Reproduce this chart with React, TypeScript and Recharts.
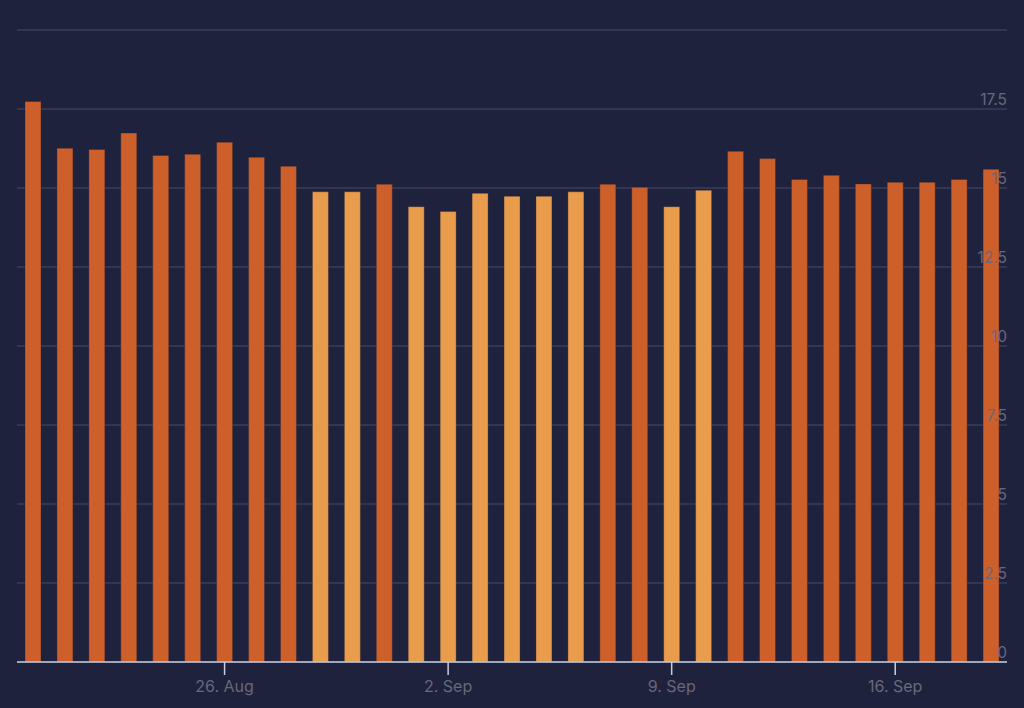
import { Bar, BarChart, CartesianGrid, Cell, XAxis, YAxis } from "recharts"

// daily values, 20 Aug – 19 Sep
const dates = [
  "20. Aug", "21. Aug", "22. Aug", "23. Aug", "24. Aug", "25. Aug", "26. Aug", "27. Aug",
  "28. Aug", "29. Aug", "30. Aug", "31. Aug", "1. Sep", "2. Sep", "3. Sep", "4. Sep",
  "5. Sep", "6. Sep", "7. Sep", "8. Sep", "9. Sep", "10. Sep", "11. Sep", "12. Sep",
  "13. Sep", "14. Sep", "15. Sep", "16. Sep", "17. Sep", "18. Sep", "19. Sep",
]

const values = [
  17.74, 16.26, 16.22, 16.74, 16.03, 16.07, 16.45, 15.97,
  15.69, 14.88, 14.88, 15.12, 14.41, 14.26, 14.83, 14.74,
  14.74, 14.88, 15.12, 15.02, 14.41, 14.93, 16.16, 15.93,
  15.27, 15.4, 15.13, 15.18, 15.18, 15.27, 15.59,
]

// which days are highlighted (lighter orange)
const highlighted = [
  false, false, false, false, false, false, false, false,
  false, true, true, false, true, true, true, true,
  true, true, false, false, true, true, false, false,
  false, false, false, false, false, false, false,
]

const xTicks = ["26. Aug", "2. Sep", "9. Sep", "16. Sep"]
const yTicks = [0, 2.5, 5, 7.5, 10, 12.5, 15, 17.5, 20]

const data = dates.map((date, i) => ({ date, value: values[i], light: highlighted[i] }))

const BG = "#1f223d"
const DARK = "#cc5f2a"
const LIGHT = "#e99c4b"
const LABEL = "#67687a"
const FONT = "Inter, 'Noto Sans', sans-serif"

const renderYTick = (props: any) => {
  const { x, y, payload } = props
  if (payload.value === 20) return <g />
  return (
    <text x={x} y={y - 4} textAnchor="end" fill={LABEL} fontSize={15.5} fontFamily={FONT}>
      {payload.value}
    </text>
  )
}

export default function App() {
  return (
    <div style={{ position: "fixed", left: 0, top: 0, width: 1024, height: 708, background: BG }}>
      <BarChart
        width={1024}
        height={708}
        data={data}
        margin={{ top: 30, right: 16, bottom: 0, left: 17 }}
        barCategoryGap={0}
      >
        <CartesianGrid vertical={false} stroke="#3b3e58" strokeWidth={1.5} />
        <XAxis
          dataKey="date"
          ticks={xTicks}
          interval={0}
          height={46}
          axisLine={{ stroke: "#c5cde4", strokeWidth: 1.5 }}
          tickLine={{ stroke: "#c5cde4", strokeWidth: 1.5 }}
          tickSize={13}
          tickMargin={6}
          tick={{ fill: LABEL, fontSize: 16, fontFamily: FONT }}
        />
        <Bar dataKey="value" barSize={16} stroke="rgba(31,34,61,0.35)" strokeWidth={1} isAnimationActive={false}>
          {data.map((d, i) => (
            <Cell key={i} fill={d.light ? LIGHT : DARK} />
          ))}
        </Bar>
        <YAxis
          orientation="right"
          width={1}
          domain={[0, 20]}
          ticks={yTicks}
          interval={0}
          axisLine={false}
          tickLine={false}
          tickSize={0}
          tickMargin={0}
          tick={renderYTick}
        />
      </BarChart>
    </div>
  )
}
